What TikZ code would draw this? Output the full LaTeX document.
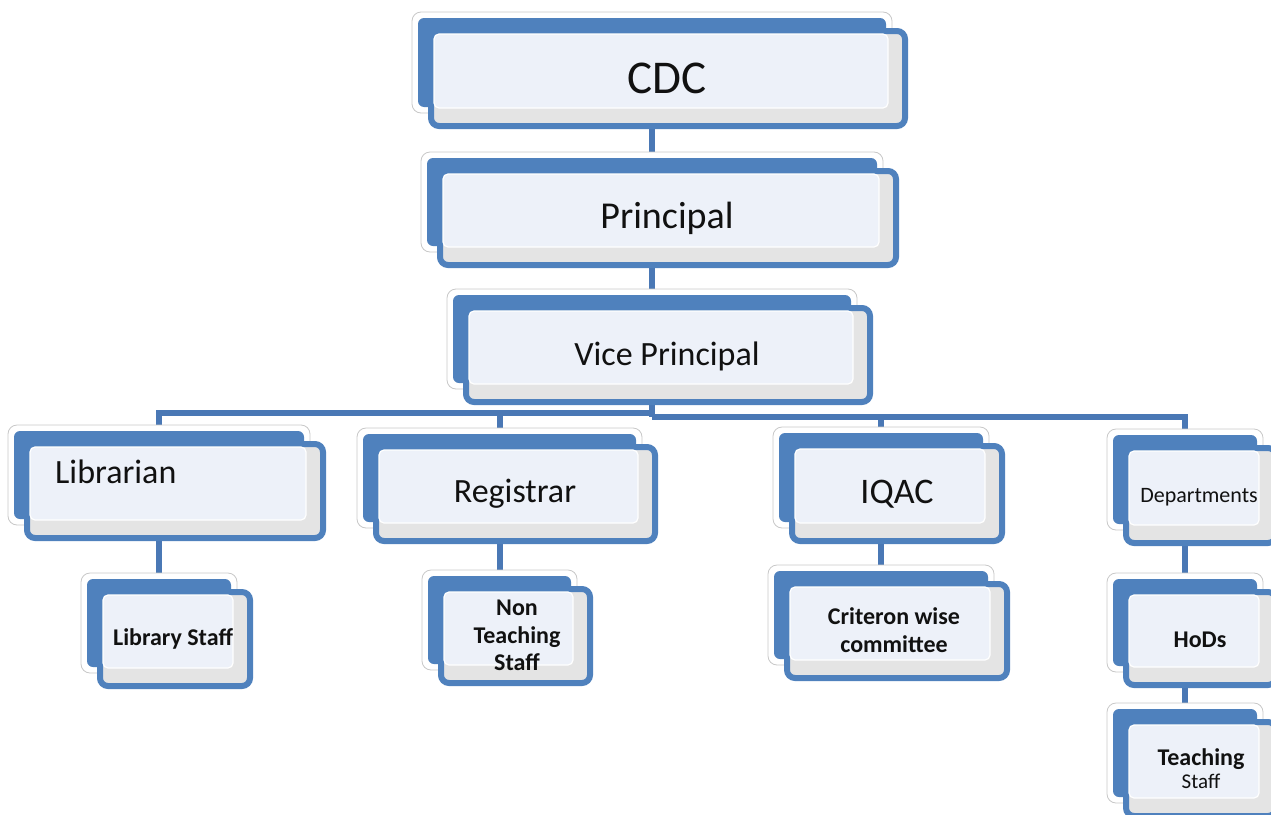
\documentclass[tikz,border=0pt]{standalone}
\usepackage{fontspec}
\setmainfont{Carlito}
\definecolor{boxblue}{HTML}{4F81BD}
\definecolor{connblue}{HTML}{4A78B5}
\definecolor{panelfill}{HTML}{EDF1F9}
\definecolor{stripgray}{HTML}{E4E4E4}
\definecolor{edgegray}{HTML}{C8C8C8}
\definecolor{txt}{HTML}{111111}
\pgfdeclarelayer{bg}
\pgfsetlayers{bg,main}
\tikzset{
  backbox/.style={draw=edgegray, fill=white, line width=0.8pt, rounded corners=9pt, inner sep=0pt, outer sep=0pt},
  frontbox/.style={draw=boxblue, fill=stripgray, line width=6pt, rounded corners=8pt, inner sep=0pt, outer sep=0pt},
  conn/.style={draw=connblue, line width=6pt},
  lbl/.style={inner sep=0pt, anchor=base, text=txt},
  fbig/.style={font={\fontsize{#1}{#1}\selectfont}},
  fbold/.style={font={\fontsize{#1}{#1}\selectfont\bfseries}},
}
\newcommand\orgbox[5]{%
  \pgfmathsetmacro\obw{#4-#2}%
  \pgfmathsetmacro\obh{#5-#3}%
  \pgfmathsetmacro\ocx{(#2+#4)/2}%
  \pgfmathsetmacro\ocy{(#3+#5)/2}%
  \node[backbox, minimum width=\obw pt, minimum height=\obh pt] (#1B) at (\ocx,\ocy) {};
  \fill[boxblue, rounded corners=6pt] (#2+6,#3+6) rectangle (#4-6,#5-6);
  \node[frontbox, minimum width=\obw pt-6pt, minimum height=\obh pt-6pt] (#1) at (\ocx+16,\ocy+16) {};
  \filldraw[fill=panelfill, draw=white, line width=1.2pt, rounded corners=5pt] (#2+22,#3+22) rectangle (#4-4,#5-5);
}
\begin{document}
\begin{tikzpicture}[x=1pt,y=-1pt]
\useasboundingbox (0,0) rectangle (1271,814);
\clip (0,0) rectangle (1271,814);
% boxes
\orgbox{cdc}{412}{12}{892}{113}
\orgbox{prin}{421}{152}{883}{252}
\orgbox{vp}{447}{289}{857}{389}
\orgbox{lib}{8}{425}{310}{525}
\orgbox{reg}{357}{428}{642}{528}
\orgbox{iqac}{773}{427}{989}{528}
\orgbox{dept}{1107}{429}{1263}{530}
\orgbox{libstaff}{81}{573}{237}{673}
\orgbox{ntstaff}{422}{570}{577}{670}
\orgbox{crit}{768}{565}{994}{665}
\orgbox{hods}{1107}{573}{1263}{672}
\orgbox{tstaff}{1107}{703}{1263}{803}
% connectors
\begin{pgfonlayer}{bg}
\clip (0,0) rectangle (1271,814);
\coordinate (busL) at (652,413);
\coordinate (busR) at (652,417);
\draw[conn] (cdcB.south) -- (prinB.north);
\draw[conn] (prinB.south) -- (vpB.north);
\draw[conn] (vpB.south) -- (busR);
\draw[conn] (busL) -| (libB.north);
\draw[conn] (busL) -| (regB.north);
\draw[conn] (busR) -| (iqacB.north);
\draw[conn] (busR) -| (deptB.north);
\draw[conn] (libB.south) -- (libstaffB.north);
\draw[conn] (regB.south) -- (ntstaffB.north);
\draw[conn] (iqacB.south) -- (critB.north);
\draw[conn] (deptB.south) -- (hodsB.north);
\draw[conn] (hodsB.south) -- (tstaffB.north);
\end{pgfonlayer}
% labels
\node[lbl, fbig=47] (cdcT) at (667,93) {CDC};
\node[lbl, fbig=38] (prinT) at (667,228) {Principal};
\node[lbl, fbig=34] (vpT) at (667,365) {Vice Principal};
\node[lbl, anchor=base west, fbig=34] (libT) at (55,483) {Librarian};
\node[lbl, fbig=34] (regT) at (515,502) {Registrar};
\node[lbl, fbig=36] (iqacT) at (897,503) {IQAC};
\node[lbl, fbig=22] (deptT) at (1199,502) {Departments};
\node[lbl, fbold=24] (hodsT) at (1200,647) {HoDs};
\node[lbl, fbold=24] (ts1) at (1201,765) {Teaching};
\node[lbl, fbig=21] (ts2) at (1201,788) {Staff};
\node[lbl, fbold=24] (lsT) at (173,645) {Library Staff};
\node[lbl, fbold=24] (nt1) at (517,615) {Non};
\node[lbl, fbold=24] (nt2) at (517,643) {Teaching};
\node[lbl, fbold=24] (nt3) at (517,670) {Staff};
\node[lbl, fbold=24] (cr1) at (894,624) {Criteron wise};
\node[lbl, fbold=24] (cr2) at (894,652) {committee};
\end{tikzpicture}
\end{document}
